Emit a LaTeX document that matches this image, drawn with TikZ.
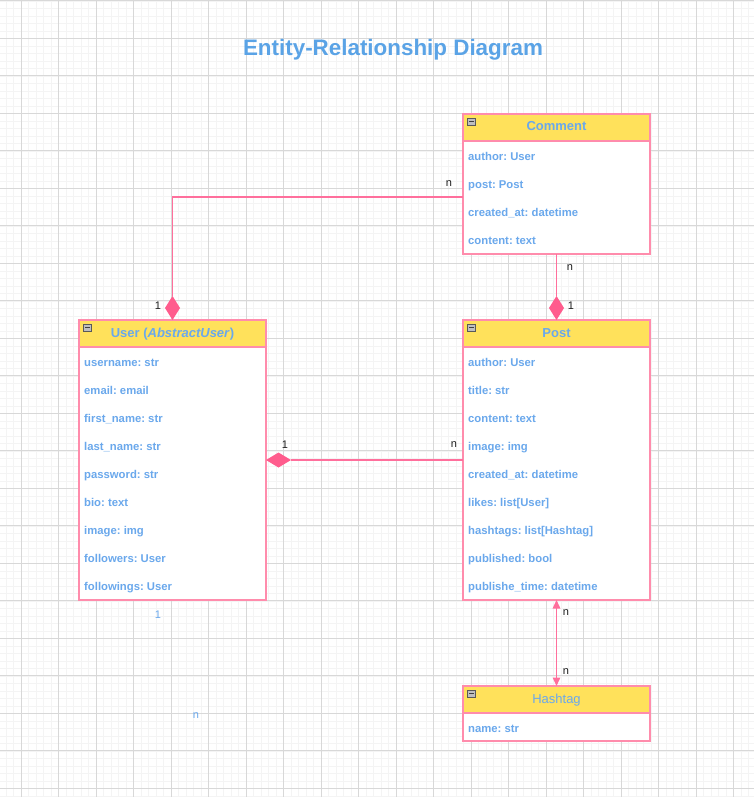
\documentclass[tikz,border=0pt]{standalone}
\usepackage{fontspec}
\setmainfont{Liberation Sans}
\usetikzlibrary{arrows.meta,calc}
\definecolor{gridminor}{HTML}{F4F4F4}
\definecolor{gridmajor}{HTML}{D8D8D8}
\definecolor{hdr}{HTML}{FFE15B}
\definecolor{bord}{HTML}{FF8CAC}
\definecolor{linec}{HTML}{FF6F9C}
\definecolor{diac}{HTML}{FF5C8D}
\definecolor{txt}{HTML}{6AA8EC}
\definecolor{ttl}{HTML}{5AA3E6}
\definecolor{lbl}{HTML}{1E1E1E}
\tikzset{
  entity/.style={draw=bord, line width=1.2pt, fill=white, minimum width=187pt, inner sep=0pt, outer sep=0pt, anchor=north west},
  header/.style={draw=bord, line width=1.2pt, fill=hdr, minimum width=187pt, minimum height=27pt, text height=9.5pt, text depth=2.5pt, inner sep=0pt, outer sep=0pt, anchor=north, text=txt, font=\fontsize{13}{15}\selectfont},
  field/.style={anchor=base west, inner sep=0pt, text=txt, font=\fontsize{11.3}{13}\selectfont\bfseries\frenchspacing},
  conn/.style={draw=linec, line width=1.4pt},
  dia/.style={fill=diac},
  card/.style={inner sep=0pt, text=lbl, font=\fontsize{11}{12}\selectfont},
  stray/.style={inner sep=0pt, text=txt, font=\fontsize{11}{12}\selectfont},
  iconbox/.style={draw=black!65, fill=black!25, line width=0.6pt},
  iconbar/.style={draw=black!75, line width=1.2pt},
  minorline/.style={draw=gridminor, line width=0.5pt},
  majorline/.style={draw=gridmajor, line width=0.8pt}
}
\newcommand{\hdricon}[1]{%
  \draw[iconbox] ($(#1.north west)+(4.5,4)$) rectangle ++(8,7.5);
  \draw[iconbar] ($(#1.north west)+(6,7.75)$) -- ++(5,0);}
\begin{document}
\begin{tikzpicture}[x=1pt,y=-1pt]
\useasboundingbox (0,0) rectangle (754,797);
\fill[white] (0,0) rectangle (754,797);
% grid
\foreach \i in {0,...,101} {\draw[minorline] ({6+7.5*\i},0) -- ({6+7.5*\i},797);}
\foreach \i in {0,...,106} {\draw[minorline] (0,{0.8+7.5*\i}) -- (754,{0.8+7.5*\i});}
\foreach \i in {0,...,20} {\draw[majorline] ({21+37.5*\i},0) -- ({21+37.5*\i},797);}
\foreach \i in {0,...,21} {\draw[majorline] (0,{0.8+37.5*\i}) -- (754,{0.8+37.5*\i});}

% title
\node[text=ttl, font=\fontsize{22.4}{26}\selectfont\bfseries, inner sep=0pt, anchor=base] (title) at (393,56) {Entity-Relationship Diagram};

% Comment
\node[entity, minimum height=140pt] (comment) at (463,114) {};
\node[header, font=\fontsize{13}{15}\selectfont\bfseries] (commenth) at (comment.north) {Comment};
\hdricon{comment}
\foreach \t [count=\i from 0] in {author: User, post: Post, created\_at: datetime, content: text}
  {\node[field] (comment-\i) at ($(comment.north west)+(5,{46+28*\i})$) {\t};}

% User
\node[entity, minimum height=280pt] (user) at (79,320) {};
\node[header, font=\fontsize{13}{15}\selectfont\bfseries] (userh) at (user.north) {User (\textit{AbstractUser})};
\hdricon{user}
\foreach \t [count=\i from 0] in {username: str, email: email, first\_name: str, last\_name: str, password: str, bio: text, image: img, followers: User, followings: User}
  {\node[field] (user-\i) at ($(user.north west)+(5,{46+28.1*\i})$) {\t};}

% Post
\node[entity, minimum height=280pt] (post) at (463,320) {};
\node[header, font=\fontsize{13}{15}\selectfont\bfseries] (posth) at (post.north) {Post};
\hdricon{post}
\foreach \t [count=\i from 0] in {author: User, title: str, content: text, image: img, created\_at: datetime, likes: list[User], hashtags: list[Hashtag], published: bool, publishe\_time: datetime}
  {\node[field] (post-\i) at ($(post.north west)+(5,{46+28.1*\i})$) {\t};}

% Hashtag
\node[entity, minimum height=55pt] (hashtag) at (463,686) {};
\node[header] (hashtagh) at (hashtag.north) {Hashtag};
\hdricon{hashtag}
\node[field] (hashtag-0) at ($(hashtag.north west)+(5,46)$) {name: str};

% Comment -> User
\draw[conn] ($(comment.north west)+(0,83)$) -| ($(user.north)+(0,-24)$);
\fill[dia] (user.north) -- ++(7.5,-12) -- ++(-7.5,-12) -- ++(-7.5,12) -- cycle;
\node[card] (c1n) at (449,184) {n};
\node[card] (c1o) at (158,306) {1};

% Comment -> Post
\draw[conn] (comment.south) -- ($(post.north)+(0,-24)$);
\fill[dia] (post.north) -- ++(7.5,-12) -- ++(-7.5,-12) -- ++(-7.5,12) -- cycle;
\node[card] (c2n) at (570,268) {n};
\node[card] (c2o) at (571,306) {1};

% Post -> User
\draw[conn] (post.west) -- ($(user.east)+(25,0)$);
\fill[dia] (user.east) -- ++(12.5,7.5) -- ++(12.5,-7.5) -- ++(-12.5,-7.5) -- cycle;
\node[card] (c3o) at (285,445) {1};
\node[card] (c3n) at (454,445) {n};

% Post <-> Hashtag
\draw[conn, {Triangle[width=7.5pt,length=8.5pt]}-{Triangle[width=7.5pt,length=8.5pt]}] (post.south) -- (hashtag.north);
\node[card] (c4a) at (566,613) {n};
\node[card] (c4b) at (566,672) {n};

% stray labels
\node[stray] (s1) at (158,615) {1};
\node[stray] (s2) at (196,716) {n};
\end{tikzpicture}
\end{document}
